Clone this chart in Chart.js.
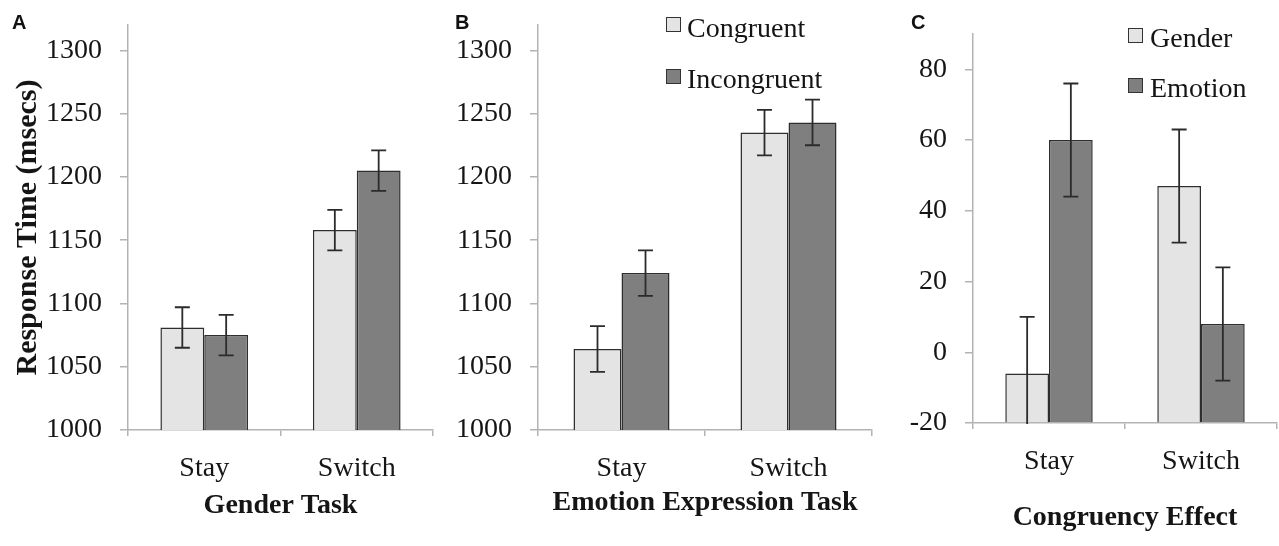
<!DOCTYPE html>
<html>
<head>
<meta charset="utf-8">
<script src="https://cdn.jsdelivr.net/npm/chart.js@4.4.0/dist/chart.umd.min.js"></script>
<style>
  html, body { margin: 0; padding: 0; background: #fff; width: 1279px; height: 546px; overflow: hidden; }
  .panel { position: absolute; top: 0; height: 546px; }
  .letter { position: absolute; top: 11px; font: bold 20px 'Liberation Sans', Arial, sans-serif; color: #111; }
  .box { position: absolute; width: 13px; height: 13px; border: 1.5px solid #333; }
  .label { position: absolute; font: 28px 'Liberation Serif', 'Times New Roman', serif; color: #151515; line-height: 28px; white-space: nowrap; }
</style>
</head>
<body>
<div class="panel" style="left:0;width:440px"><canvas id="chart-a"></canvas></div>
<div class="panel" style="left:440px;width:440px"><canvas id="chart-b"></canvas></div>
<div class="panel" style="left:880px;width:399px"><canvas id="chart-c"></canvas></div>

<div class="letter" style="left:12px">A</div>
<div class="letter" style="left:455px">B</div>
<div class="letter" style="left:911px">C</div>

<div class="box" style="left:666px;top:17px;background:#e4e4e4"></div>
<div class="label" style="left:687px;top:14px">Congruent</div>
<div class="box" style="left:666px;top:69px;background:#7f7f7f"></div>
<div class="label" style="left:687px;top:65px">Incongruent</div>

<div class="box" style="left:1128px;top:28px;background:#e4e4e4"></div>
<div class="label" style="left:1150px;top:24px">Gender</div>
<div class="box" style="left:1128px;top:78px;background:#7f7f7f"></div>
<div class="label" style="left:1150px;top:74px">Emotion</div>

<script>
const categories = ['Stay', 'Switch'];

// A: Gender task response times
const genderCongruent = [1081, 1158];
const genderIncongruent = [1075, 1205];
const genderCongruentErr = [16, 16];
const genderIncongruentErr = [16, 16];

// B: Emotion expression task response times
const emotionCongruent = [1064, 1235];
const emotionIncongruent = [1124, 1243];
const emotionCongruentErr = [18, 18];
const emotionIncongruentErr = [18, 18];

// C: Congruency effect
const effectGender = [-6, 47];
const effectEmotion = [60, 8];
const effectGenderErr = [16, 16];
const effectEmotionErr = [16, 16];

const rtRange = { min: 1000, max: 1320, step: 50 };
const effectRange = { min: -20, max: 90, step: 20 };

const LIGHT = '#e4e4e4';
const DARK = '#7f7f7f';
const EDGE = '#2e2e2e';
const AXIS = '#b3b3b3';
const TEXT = '#151515';
const SERIF = "'Liberation Serif', 'Times New Roman', serif";

const errorBars = {
  id: 'errorBars',
  afterDatasetsDraw(chart) {
    const { ctx, chartArea, scales: { y } } = chart;
    ctx.save();
    ctx.beginPath();
    ctx.rect(chartArea.left, chartArea.top, chartArea.right - chartArea.left, chartArea.bottom - chartArea.top + 1);
    ctx.clip();
    ctx.strokeStyle = '#2b2b2b';
    ctx.lineWidth = 1.8;
    chart.data.datasets.forEach((ds, i) => {
      const meta = chart.getDatasetMeta(i);
      meta.data.forEach((bar, j) => {
        const v = ds.data[j];
        const e = ds.errors[j];
        const top = y.getPixelForValue(v + e);
        const bottom = y.getPixelForValue(v - e);
        ctx.beginPath();
        ctx.moveTo(bar.x, top);
        ctx.lineTo(bar.x, bottom);
        ctx.moveTo(bar.x - 7.5, top);
        ctx.lineTo(bar.x + 7.5, top);
        ctx.moveTo(bar.x - 7.5, bottom);
        ctx.lineTo(bar.x + 7.5, bottom);
        ctx.stroke();
      });
    });
    ctx.restore();
  },
};

function makePanel(canvasId, cfg) {
  const datasets = cfg.series.map((s) => ({
    label: s.label,
    data: s.data,
    errors: s.errors,
    backgroundColor: s.color,
    borderColor: EDGE,
    borderWidth: 1.5,
    categoryPercentage: 0.575,
    barPercentage: 1,
    ...(cfg.base !== undefined ? { base: cfg.base } : {}),
  }));

  return new Chart(document.getElementById(canvasId), {
    type: 'bar',
    data: { labels: categories, datasets },
    plugins: [errorBars],
    options: {
      responsive: true,
      maintainAspectRatio: false,
      animation: false,
      layout: { padding: { top: cfg.padTop, right: cfg.padRight, left: 0, bottom: 0 } },
      plugins: { legend: { display: false }, tooltip: { enabled: false } },
      scales: {
        x: {
          afterFit(scale) {
            scale.height = cfg.xHeight;
            scale.paddingLeft = 0;
            scale.paddingRight = 0;
          },
          ticks: { color: TEXT, font: { family: SERIF, size: 28 }, padding: 16 },
          grid: { offset: true, drawOnChartArea: false, tickLength: 6, color: AXIS, lineWidth: 1.5 },
          border: { color: AXIS, width: 1.5 },
          title: {
            display: true,
            text: cfg.xTitle,
            color: TEXT,
            font: { family: SERIF, size: 28, weight: 'bold' },
            padding: { top: 0, bottom: cfg.xTitlePad },
          },
        },
        y: {
          min: cfg.range.min,
          max: cfg.range.max,
          afterFit(scale) {
            scale.width = cfg.yWidth;
            scale.paddingTop = 0;
            scale.paddingBottom = 0;
          },
          ticks: {
            stepSize: cfg.range.step,
            includeBounds: false,
            color: TEXT,
            font: { family: SERIF, size: 28 },
            padding: 18,
            callback: (value) => String(value),
          },
          grid: { drawOnChartArea: false, tickLength: 8, color: AXIS, lineWidth: 1.5 },
          border: { color: AXIS, width: 1.5 },
          title: {
            display: !!cfg.yTitle,
            text: cfg.yTitle || '',
            color: TEXT,
            font: { family: SERIF, size: 30, weight: 'bold' },
            padding: { top: 10, bottom: 0 },
          },
        },
      },
    },
  });
}

makePanel('chart-a', {
  series: [
    { label: 'Congruent', data: genderCongruent, errors: genderCongruentErr, color: LIGHT },
    { label: 'Incongruent', data: genderIncongruent, errors: genderIncongruentErr, color: DARK },
  ],
  range: rtRange,
  xTitle: 'Gender Task',
  yTitle: 'Response Time (msecs)',
  yWidth: 128,
  xHeight: 116,
  xTitlePad: 23,
  padTop: 25,
  padRight: 7,
});

makePanel('chart-b', {
  series: [
    { label: 'Congruent', data: emotionCongruent, errors: emotionCongruentErr, color: LIGHT },
    { label: 'Incongruent', data: emotionIncongruent, errors: emotionIncongruentErr, color: DARK },
  ],
  range: rtRange,
  xTitle: 'Emotion Expression Task',
  yWidth: 98,
  xHeight: 116,
  xTitlePad: 26,
  padTop: 25,
  padRight: 8,
});

makePanel('chart-c', {
  series: [
    { label: 'Gender', data: effectGender, errors: effectGenderErr, color: LIGHT },
    { label: 'Emotion', data: effectEmotion, errors: effectEmotionErr, color: DARK },
  ],
  range: effectRange,
  base: effectRange.min,
  xTitle: 'Congruency Effect',
  yWidth: 93,
  xHeight: 123,
  xTitlePad: 11,
  padTop: 34,
  padRight: 2,
});
</script>
</body>
</html>
